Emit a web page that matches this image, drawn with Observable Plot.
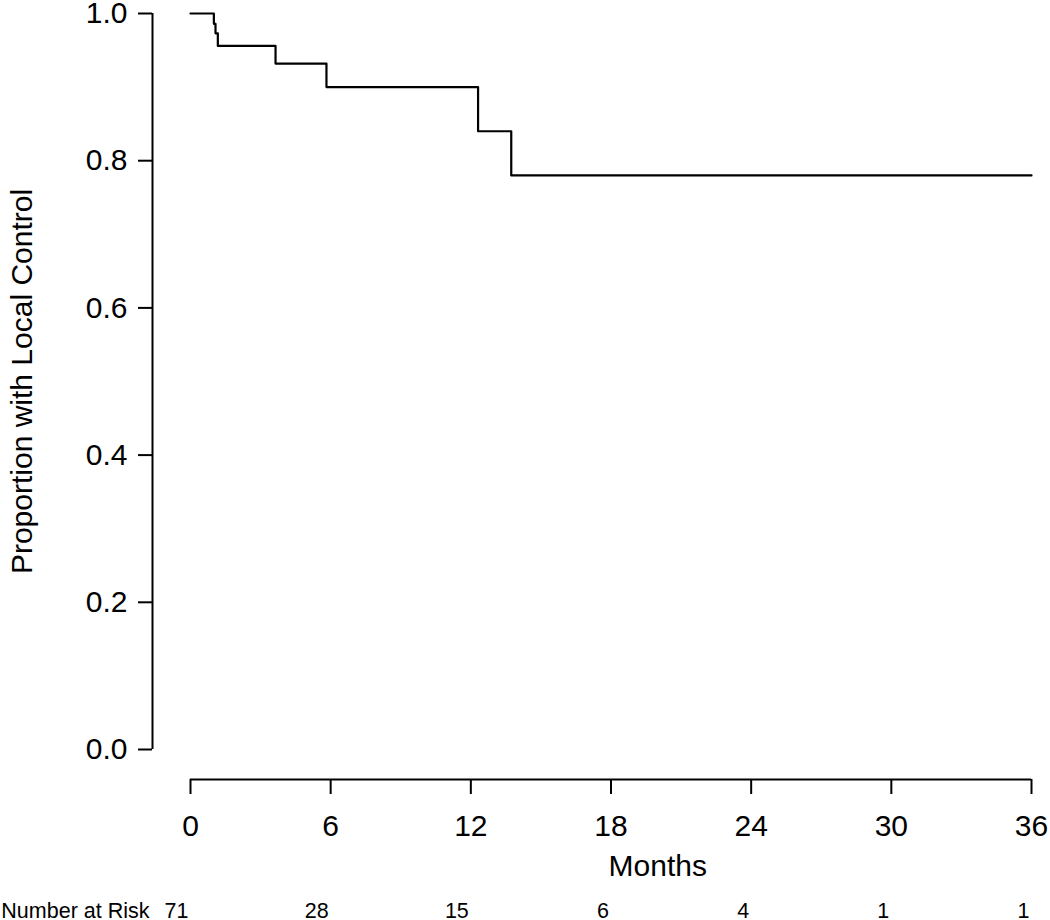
<!DOCTYPE html>
<html>
<head>
<meta charset="utf-8">
<script src="https://cdn.jsdelivr.net/npm/d3@7"></script>
<script src="https://cdn.jsdelivr.net/npm/@observablehq/plot@0.6"></script>
<style>
  html, body { margin: 0; padding: 0; background: #fff; }
  #chart svg { display: block; }
</style>
</head>
<body>
<div id="chart"></div>
<script>
// Kaplan-Meier estimate
const months = [0, 1.0, 1.07, 1.17, 3.64, 5.82, 12.31, 13.73, 36];
const survival = [1.0, 0.986, 0.973, 0.956, 0.932, 0.900, 0.840, 0.780, 0.780];

// Axes ticks
const xTicks = [0, 6, 12, 18, 24, 30, 36];
const yTicks = [0, 0.2, 0.4, 0.6, 0.8, 1.0];

// Number at risk table
const riskMonths = [0, 6, 12, 18, 24, 30, 36];
const riskCounts = [71, 28, 15, 6, 4, 1, 1];

const curve = months.map((m, i) => ({month: m, surv: survival[i]}));
const risk = riskMonths.map((m, i) => ({month: m, n: riskCounts[i]}));

const chart = Plot.plot({
  width: 1050,
  height: 920,
  marginLeft: 152,
  marginRight: 19,
  marginTop: 13,
  marginBottom: 141,
  style: {fontFamily: "'Liberation Sans', Arial, Helvetica, sans-serif", fontSize: "30px", color: "#000", background: "#fff"},
  x: {domain: [0, 36], range: [190, 1031]},
  y: {domain: [0, 1], range: [749, 13]},
  marks: [
    // axis lines (R style, detached)
    Plot.ruleY([0], {x1: 0, x2: 36, dy: 30, stroke: "#000", strokeWidth: 2}),
    Plot.ruleX([0], {y1: 0, y2: 1, dx: -38, stroke: "#000", strokeWidth: 2}),
    Plot.axisX({ticks: xTicks, tickSize: 15, tickPadding: 20, strokeWidth: 2, label: null, tickFormat: d => String(d)}),
    Plot.axisY({ticks: yTicks, tickSize: 14, tickPadding: 11, strokeWidth: 2, label: null, tickFormat: d3.format(".1f")}),
    // axis titles
    Plot.text(["Months"], {x: [20], frameAnchor: "bottom", dy: 96, lineAnchor: "bottom", textAnchor: "middle", fontSize: 30, fill: "#000"}),
    Plot.text(["Proportion with Local Control"], {y: [0.5], frameAnchor: "left", dx: -130, rotate: -90, lineAnchor: "middle", textAnchor: "middle", fontSize: 30, fill: "#000"}),
    // survival curve
    Plot.line(curve, {x: "month", y: "surv", curve: "step-after", stroke: "#000", strokeWidth: 2.2}),
    // number at risk
    Plot.text(["Number at Risk"], {frameAnchor: "bottom-left", dx: -3, dy: 138, lineAnchor: "bottom", textAnchor: "end", fontSize: 21.5, fill: "#000"}),
    Plot.text(risk, {x: "month", text: d => String(d.n), frameAnchor: "bottom", dx: -2, dy: 138, lineAnchor: "bottom", textAnchor: "end", fontSize: 21.5, fill: "#000"})
  ]
});

document.getElementById("chart").appendChild(chart);
</script>
</body>
</html>
